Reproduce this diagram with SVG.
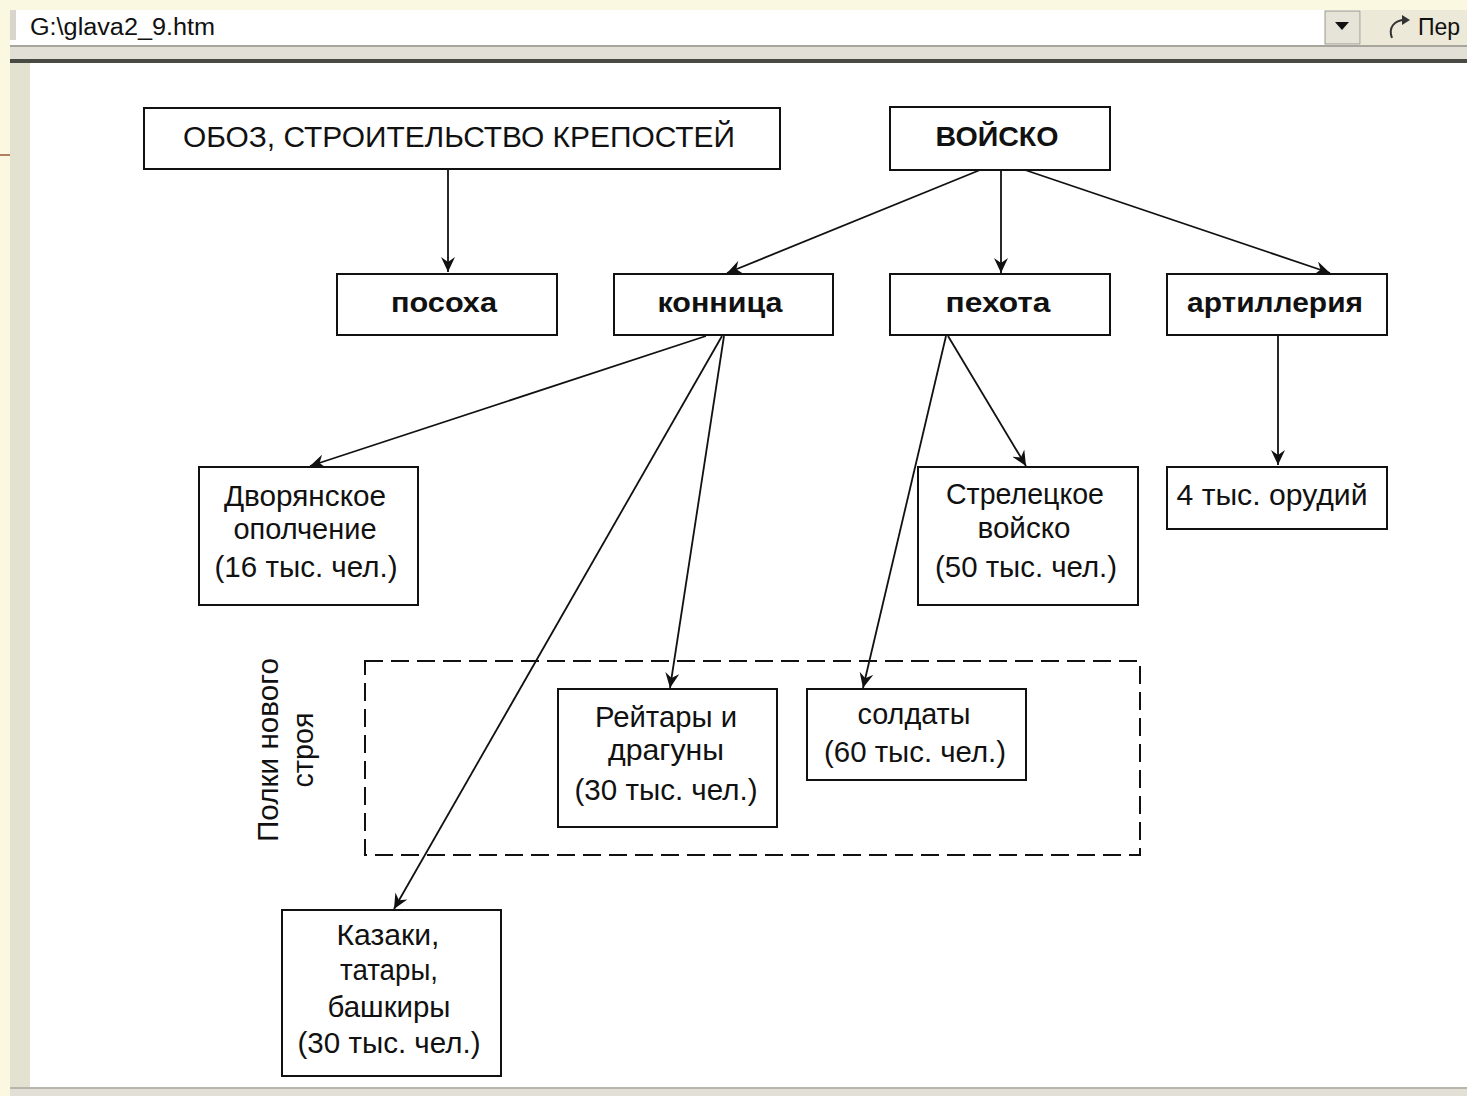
<svg xmlns="http://www.w3.org/2000/svg" width="1467" height="1096" viewBox="0 0 1467 1096">
<style>
.box{fill:#fff;stroke:#111;stroke-width:2}
.t{font-family:"Liberation Sans",Arial,sans-serif;font-size:29px;fill:#111;text-anchor:middle}
.b{font-family:"Liberation Sans",Arial,sans-serif;font-size:27px;font-weight:bold;fill:#111;text-anchor:middle}
.c{fill:none;stroke:#111;stroke-width:1.8;marker-end:url(#arr)}
.ui{font-family:"Liberation Sans",Arial,sans-serif;font-size:23px;fill:#111}
</style>
<defs>
<marker id="arr" markerUnits="userSpaceOnUse" markerWidth="16" markerHeight="14" refX="15" refY="7" orient="auto">
<path d="M0,0 L15,7 L0,14 L5,7 z" fill="#111"/>
</marker>
</defs>
<g id="chrome">
<rect x="0" y="0" width="1467" height="1096" fill="#fbf8e2"/>
<rect x="10" y="10" width="1457" height="36" fill="#fff"/>
<rect x="10" y="10" width="6" height="30" fill="#d8d6cc"/>
<text class="ui" x="30" y="35" textLength="185" lengthAdjust="spacingAndGlyphs">G:\glava2_9.htm</text>
<rect x="1325" y="11" width="35" height="33" fill="#e6e3d8" stroke="#9a988e" stroke-width="1"/>
<path d="M1335,22 L1349,22 L1342,30 z" fill="#111"/>
<rect x="1361" y="10" width="106" height="36" fill="#ece9d8"/>
<path d="M1392,38 C1388,28 1394,20 1405,20" fill="none" stroke="#333" stroke-width="2"/>
<path d="M1402,15 L1410,20 L1402,25 z" fill="#333"/>
<text class="ui" x="1418" y="35">Пер</text>
<rect x="10" y="45" width="1457" height="19" fill="#e2e0d6"/>
<rect x="10" y="45" width="1457" height="2" fill="#a8a69c"/>
<rect x="10" y="59" width="1457" height="4" fill="#4a4a44"/>
<rect x="10" y="63" width="1457" height="1025" fill="#fff"/>
<rect x="10" y="63" width="20" height="1025" fill="#e3e1d0"/>
<rect x="0" y="154" width="10" height="2" fill="#b08060"/>
<rect x="10" y="1087" width="1457" height="9" fill="#e2e0d6"/>
<rect x="10" y="1087" width="1457" height="2" fill="#b8b6ac"/>
</g>
<g id="connectors">
<line class="c" x1="448" y1="170" x2="448" y2="272"/>
<line class="c" x1="980" y1="170" x2="727" y2="273"/>
<line class="c" x1="1001" y1="170" x2="1001" y2="273"/>
<line class="c" x1="1025" y1="170" x2="1330" y2="273"/>
<line class="c" x1="706" y1="336" x2="310" y2="466"/>
<line class="c" x1="722" y1="336" x2="394" y2="909"/>
<line class="c" x1="724" y1="336" x2="670" y2="688"/>
<line class="c" x1="946" y1="336" x2="863" y2="688"/>
<line class="c" x1="948" y1="336" x2="1026" y2="466"/>
<line class="c" x1="1278" y1="336" x2="1278" y2="465"/>
</g>
<g id="group-new-order">
<rect x="365" y="661" width="775" height="194" fill="none" stroke="#111" stroke-width="2" stroke-dasharray="18,8"/>
<text class="t" transform="translate(278,750) rotate(-90)" textLength="184" lengthAdjust="spacingAndGlyphs">Полки нового</text>
<text class="t" transform="translate(313,750) rotate(-90)" textLength="75" lengthAdjust="spacingAndGlyphs">строя</text>
</g>
<g id="n-oboz">
<rect class="box" x="144" y="108" width="636" height="61"/>
<text class="t" x="459" y="147" textLength="552" lengthAdjust="spacingAndGlyphs">ОБОЗ, СТРОИТЕЛЬСТВО КРЕПОСТЕЙ</text>
</g>
<g id="n-voisko">
<rect class="box" x="890" y="107" width="220" height="63"/>
<text class="b" x="997" y="146" textLength="123" lengthAdjust="spacingAndGlyphs">ВОЙСКО</text>
</g>
<g id="n-posokha">
<rect class="box" x="337" y="274" width="220" height="61"/>
<text class="b" x="444" y="312" textLength="106" lengthAdjust="spacingAndGlyphs">посоха</text>
</g>
<g id="n-konnitsa">
<rect class="box" x="614" y="274" width="219" height="61"/>
<text class="b" x="720" y="312" textLength="125" lengthAdjust="spacingAndGlyphs">конница</text>
</g>
<g id="n-pekhota">
<rect class="box" x="890" y="274" width="220" height="61"/>
<text class="b" x="998" y="312" textLength="105" lengthAdjust="spacingAndGlyphs">пехота</text>
</g>
<g id="n-artilleriya">
<rect class="box" x="1167" y="274" width="220" height="61"/>
<text class="b" x="1275" y="312" textLength="176" lengthAdjust="spacingAndGlyphs">артиллерия</text>
</g>
<g id="n-dvoryanskoe">
<rect class="box" x="199" y="467" width="219" height="138"/>
<text class="t" x="305" y="506" textLength="162" lengthAdjust="spacingAndGlyphs">Дворянское</text>
<text class="t" x="305" y="539" textLength="143" lengthAdjust="spacingAndGlyphs">ополчение</text>
<text class="t" x="306" y="577" textLength="183" lengthAdjust="spacingAndGlyphs">(16 тыс. чел.)</text>
</g>
<g id="n-streletskoe">
<rect class="box" x="918" y="467" width="220" height="138"/>
<text class="t" x="1025" y="504" textLength="158" lengthAdjust="spacingAndGlyphs">Стрелецкое</text>
<text class="t" x="1024" y="538" textLength="93" lengthAdjust="spacingAndGlyphs">войско</text>
<text class="t" x="1026" y="577" textLength="182" lengthAdjust="spacingAndGlyphs">(50 тыс. чел.)</text>
</g>
<g id="n-orudii">
<rect class="box" x="1167" y="467" width="220" height="62"/>
<text class="t" x="1272" y="505" textLength="191" lengthAdjust="spacingAndGlyphs">4 тыс. орудий</text>
</g>
<g id="n-reitary">
<rect class="box" x="558" y="689" width="219" height="138"/>
<text class="t" x="666" y="727" textLength="142" lengthAdjust="spacingAndGlyphs">Рейтары и</text>
<text class="t" x="666" y="760" textLength="116" lengthAdjust="spacingAndGlyphs">драгуны</text>
<text class="t" x="666" y="800" textLength="183" lengthAdjust="spacingAndGlyphs">(30 тыс. чел.)</text>
</g>
<g id="n-soldaty">
<rect class="box" x="807" y="689" width="219" height="91"/>
<text class="t" x="914" y="724" textLength="113" lengthAdjust="spacingAndGlyphs">солдаты</text>
<text class="t" x="915" y="762" textLength="182" lengthAdjust="spacingAndGlyphs">(60 тыс. чел.)</text>
</g>
<g id="n-kazaki">
<rect class="box" x="282" y="910" width="219" height="166"/>
<text class="t" x="388" y="945" textLength="103" lengthAdjust="spacingAndGlyphs">Казаки,</text>
<text class="t" x="389" y="980" textLength="98" lengthAdjust="spacingAndGlyphs">татары,</text>
<text class="t" x="389" y="1017" textLength="123" lengthAdjust="spacingAndGlyphs">башкиры</text>
<text class="t" x="389" y="1053" textLength="183" lengthAdjust="spacingAndGlyphs">(30 тыс. чел.)</text>
</g>
</svg>
